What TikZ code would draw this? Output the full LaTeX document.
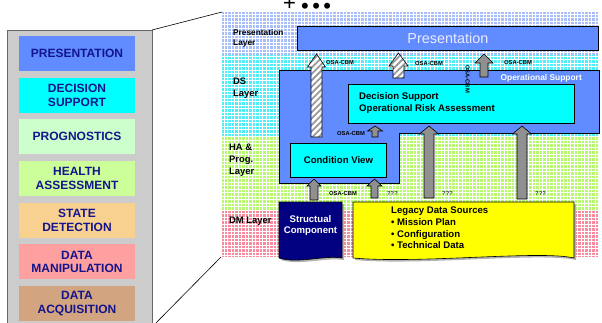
\documentclass[tikz,border=0pt]{standalone}
\usepackage{fontspec}
\setmainfont{Liberation Sans}
\usetikzlibrary{calc,patterns.meta}

\definecolor{layblue}{RGB}{96,140,255}
\definecolor{laycyan}{RGB}{0,255,255}
\definecolor{layprog}{RGB}{204,255,204}
\definecolor{layhealth}{RGB}{204,255,153}
\definecolor{laystate}{RGB}{248,208,144}
\definecolor{laydman}{RGB}{255,160,160}
\definecolor{laydacq}{RGB}{210,164,128}
\definecolor{navytext}{RGB}{20,20,140}
\definecolor{panelgray}{RGB}{204,204,204}
\definecolor{arrgray}{RGB}{144,144,144}
\definecolor{bandblue}{RGB}{168,190,250}
\definecolor{bandcyan}{RGB}{80,238,248}
\definecolor{bandgreen}{RGB}{184,248,110}
\definecolor{bandpink}{RGB}{248,140,158}
\definecolor{structnavy}{RGB}{0,0,128}
\definecolor{legyellow}{RGB}{255,255,0}

% block arrow pointing up: [style]{from}{to}{shaft half}{head half}{head length}
\newcommand{\blockarrow}[6][]{%
  \draw[#1] let \p1=(#2), \p2=(#3) in
    (\x1-#4pt,\y1) -- (\x1-#4pt,\y2-#6pt) -- (\x1-#5pt,\y2-#6pt) -- (\x2,\y2)
    -- (\x1+#5pt,\y2-#6pt) -- (\x1+#4pt,\y2-#6pt) -- (\x1+#4pt,\y1) -- cycle;}

\tikzset{
  layerbox/.style={minimum width=116pt,minimum height=35pt,inner sep=0pt,align=center,
    font=\fontsize{12}{13.5}\selectfont\bfseries,text=navytext},
  laylabel/.style={anchor=north west,inner sep=0pt,align=left,
    font=\fontsize{9.4}{12}\selectfont\bfseries},
  bluebox/.style={draw=black,line width=0.8pt,fill=layblue},
  cyanbox/.style={draw=black,line width=0.8pt,fill=laycyan},
  osalabel/.style={inner sep=0pt,font=\fontsize{5.8}{6}\selectfont\bfseries},
  qlabel/.style={inner sep=0pt,anchor=west,text=black!75,font=\fontsize{5.8}{6}\selectfont\bfseries},
  grayarrow/.style={draw=black,line width=0.6pt,fill=arrgray},
  hatcharrow/.style={draw=black,line width=0.6pt,preaction={fill=white},
    pattern={Lines[angle=45,distance=4.5pt,line width=1.8pt]},pattern color=black!40},
  bandgrid/.style={white,line width=0.7pt,step=3.5pt}
}

\begin{document}
\begin{tikzpicture}[x=1pt,y=-1pt]
  \useasboundingbox (0,0) rectangle (602,322);

  % left panel with the layers
  \draw[fill=panelgray,draw=black!60,line width=1pt] (7,30) rectangle (152,330);
  \foreach \txt/\col [count=\i from 0] in {PRESENTATION/layblue,{DECISION\\SUPPORT}/laycyan,
      PROGNOSTICS/layprog,{HEALTH\\ASSESSMENT}/layhealth,{STATE\\DETECTION}/laystate,
      {DATA\\MANIPULATION}/laydman,{DATA\\ACQUISITION}/laydacq}
    \node[layerbox,fill=\col] (lay\i) at (77,53.5+41.67*\i) {\txt};

  % layer bands
  \fill[bandblue] (222,12) rectangle (599,55);
  \draw[bandgrid] (222,12) grid (599,55);
  \fill[bandcyan] (222,55) rectangle (599,137);
  \draw[bandgrid] (222,55) grid (599,137);
  \fill[bandgreen] (222,137) rectangle (599,210);
  \draw[bandgrid] (222,137) grid (599,210);
  \fill[bandpink] (222,210) rectangle (599,257);
  \draw[bandgrid] (222,210) grid (599,257);

  % zoom lines
  \coordinate (zt) at (152,30);
  \coordinate (zb) at (152,327);
  \draw[black,line width=0.6pt] (zt) -- (222,12);
  \draw[black,line width=0.6pt] (zb) -- (221,257);

  \node[anchor=base west,inner sep=0pt,font=\fontsize{22}{22}\selectfont] (more) at (283,10)
    {+\kern5pt\raisebox{-3pt}{•\kern3.5pt•\kern3.5pt•}};

  % layer names
  \node[laylabel,font=\fontsize{8.3}{10}\selectfont\bfseries] (lpres) at (233,29) {Presentation\\Layer};
  \node[laylabel] (lds) at (233,78) {DS\\Layer};
  \node[laylabel] (lha) at (229,144) {HA \&\\Prog.\\Layer};
  \node[laylabel] (ldm) at (229,217) {DM Layer};

  % boxes
  \node[bluebox,anchor=north west,minimum width=301pt,minimum height=24pt,inner sep=0pt,
    text=white!92!blue,font=\fontsize{14.4}{16}\selectfont] (pres) at (297,26) {Presentation};
  \draw[bluebox] (279,70) -- (599,70) -- (599,133) -- (399,133) -- (399,183) -- (279,183) -- cycle;
  \node[anchor=east,inner sep=0pt,text=white,font=\fontsize{8.4}{9}\selectfont\bfseries] (ops) at (582,78)
    {Operational Support};
  \node[cyanbox,anchor=north west,minimum width=226pt,minimum height=39pt] (dsbox) at (348,84) {};
  \node[anchor=north west,inner sep=0pt,align=left,font=\fontsize{9.6}{12}\selectfont\bfseries] (dstext)
    at (359,92) {Decision Support\\Operational Risk Assessment};
  \node[cyanbox,anchor=north west,minimum width=96pt,minimum height=34pt,
    font=\fontsize{9.6}{12}\selectfont\bfseries] (cv) at (290,143) {Condition View};

  % document shapes
  \fill[black!30] (281,204) -- (344,204) -- (344,260) .. controls (325,257) and (300,266) .. (281,260) -- cycle;
  \draw[fill=structnavy,line width=0.6pt] (279,202) -- (342,202) -- (342,258)
    .. controls (323,255) and (298,264) .. (279,258) -- cycle;
  \node[align=center,inner sep=0pt,text=white,font=\fontsize{9.6}{11}\selectfont\bfseries] (sc)
    at (310.5,226) {Structual\\Component};
  \fill[black!30] (355,204) -- (576,204) -- (576,260) .. controls (540,252) and (420,266) .. (355,260) -- cycle;
  \draw[fill=legyellow,line width=0.6pt] (353,202) -- (574,202) -- (574,258)
    .. controls (540,250) and (420,264) .. (353,258) -- cycle;
  \node[anchor=north west,inner sep=0pt,align=left,font=\fontsize{9.6}{11.8}\selectfont\bfseries] (leg)
    at (391,206.5) {Legacy Data Sources\\• Mission Plan\\• Configuration\\• Technical Data};

  % arrows
  \coordinate (h1a) at (316.5,137); \coordinate (h1b) at (316.5,54);
  \coordinate (h2a) at (398.5,78);  \coordinate (h2b) at (398.5,53);
  \coordinate (g3a) at (484,77);    \coordinate (g3b) at (484,54);
  \coordinate (g4a) at (375,137);   \coordinate (g4b) at (375,126);
  \coordinate (gAa) at (429,198);   \coordinate (gAb) at (429,126);
  \coordinate (gBa) at (522,199);   \coordinate (gBb) at (522,126);
  \coordinate (g5a) at (314,200);   \coordinate (g5b) at (314,179);
  \coordinate (g6a) at (374.5,198); \coordinate (g6b) at (374.5,179);
  \blockarrow[hatcharrow]{h1a}{h1b}{5.5}{9}{13}
  \blockarrow[hatcharrow]{h2a}{h2b}{5.5}{9.5}{13}
  \blockarrow[grayarrow]{g3a}{g3b}{4}{9}{9}
  \blockarrow[grayarrow]{g4a}{g4b}{3}{7.5}{5}
  \blockarrow[grayarrow]{gAa}{gAb}{5}{9.5}{8}
  \blockarrow[grayarrow]{gBa}{gBb}{5}{9.5}{8}
  \blockarrow[grayarrow]{g5a}{g5b}{4}{7}{7}
  \blockarrow[grayarrow]{g6a}{g6b}{3.5}{7.5}{7}

  % interface labels
  \node[osalabel,anchor=west] (o1) at (326,62) {OSA-CBM};
  \node[osalabel,anchor=west] (o2) at (415,63) {OSA-CBM};
  \node[osalabel,anchor=west] (o3) at (504,62) {OSA-CBM};
  \node[osalabel,rotate=-90] (o4) at (467.5,79) {OSA-CBM};
  \node[osalabel,anchor=west] (o5) at (337,133) {OSA-CBM};
  \node[osalabel,anchor=west] (o6) at (329,193) {OSA-CBM};
  \node[qlabel] (q1) at (387,193) {???};
  \node[qlabel] (q2) at (442,193) {???};
  \node[qlabel] (q3) at (535,193) {???};
\end{tikzpicture}
\end{document}
